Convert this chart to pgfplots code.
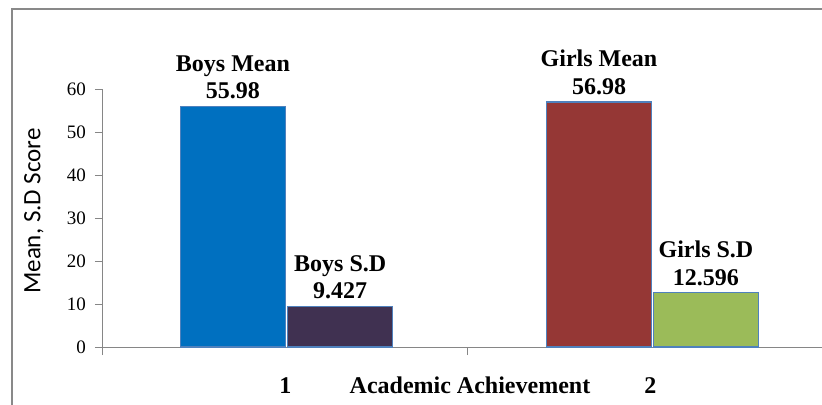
\documentclass[border=0pt]{standalone}
\usepackage{fontspec}
\setmainfont{Liberation Serif}
\newfontfamily\calibri{Carlito}
\usepackage{pgfplots}
\pgfplotsset{compat=1.18}
\definecolor{boysblue}{HTML}{0070C0}
\definecolor{boyssd}{HTML}{403151}
\definecolor{girlsred}{HTML}{953735}
\definecolor{girlsgreen}{HTML}{9BBB59}
\definecolor{edgeblue}{HTML}{4F81BD}
\definecolor{axisgray}{HTML}{868686}
\definecolor{framegray}{HTML}{898989}
\begin{document}
\begin{tikzpicture}
\begin{axis}[
  scale only axis, width=359.5pt, height=129pt,
  xmin=0, xmax=1.97, ymin=0, ymax=60,
  axis x line*=bottom, axis y line*=left,
  axis line style={draw=axisgray, line width=0.5pt, -},
  xtick={0,1}, xticklabels={},
  extra x ticks={0.5,1.5}, extra x tick labels={1,2},
  extra x tick style={major tick length=0pt,
    xticklabel style={anchor=base, yshift=-23pt, font=\bfseries\fontsize{12}{14}\selectfont}},
  ytick={0,10,...,60},
  yticklabel style={font=\fontsize{9.5}{11}\selectfont, xshift=-1pt},
  tick style={draw=axisgray, line width=0.5pt},
  major tick length=4pt, tick align=outside,
  xtick pos=bottom, ytick pos=left,
  /pgf/number format/assume math mode=true,
  /pgf/number format/precision=3,
  ylabel={\calibri Mean, S.D Score},
  ylabel style={at={(axis description cs:-0.096,0.527)}, anchor=center, font=\fontsize{12.5}{14}\selectfont},
  xlabel={Academic Achievement},
  xlabel style={at={(axis description cs:0.5104,0)}, anchor=base, yshift=-23pt, font=\bfseries\fontsize{12}{14}\selectfont},
  ybar, bar width=0.288, bar shift=0pt,
  every node near coord/.append style={align=center, anchor=south, yshift=0pt,
    font=\bfseries\fontsize{12}{13.8}\selectfont, text=black},
  clip=false,
]
\addplot[ybar, fill=boysblue, draw=edgeblue, line width=0.6pt,
  nodes near coords={Boys Mean\\\pgfmathprintnumber{\pgfplotspointmeta}}]
  coordinates {(0.356,55.98)};
\addplot[ybar, fill=boyssd, draw=edgeblue, line width=0.6pt,
  nodes near coords={Boys S.D\\\pgfmathprintnumber{\pgfplotspointmeta}}]
  coordinates {(0.65,9.427)};
\addplot[ybar, fill=girlsred, draw=edgeblue, line width=0.6pt,
  nodes near coords={Girls Mean\\\pgfmathprintnumber{\pgfplotspointmeta}}]
  coordinates {(1.359,56.98)};
\addplot[ybar, fill=girlsgreen, draw=edgeblue, line width=0.6pt,
  nodes near coords={Girls S.D\\\pgfmathprintnumber{\pgfplotspointmeta}}]
  coordinates {(1.652,12.596)};
\end{axis}
\draw[framegray, line width=1pt] (-45.5pt,-40pt) -- (-45.5pt,169pt) -- (370pt,169pt);
\pgfresetboundingbox
\useasboundingbox (-51.5pt,-28.5pt) rectangle (359.5pt,173.5pt);
\end{tikzpicture}
\end{document}
